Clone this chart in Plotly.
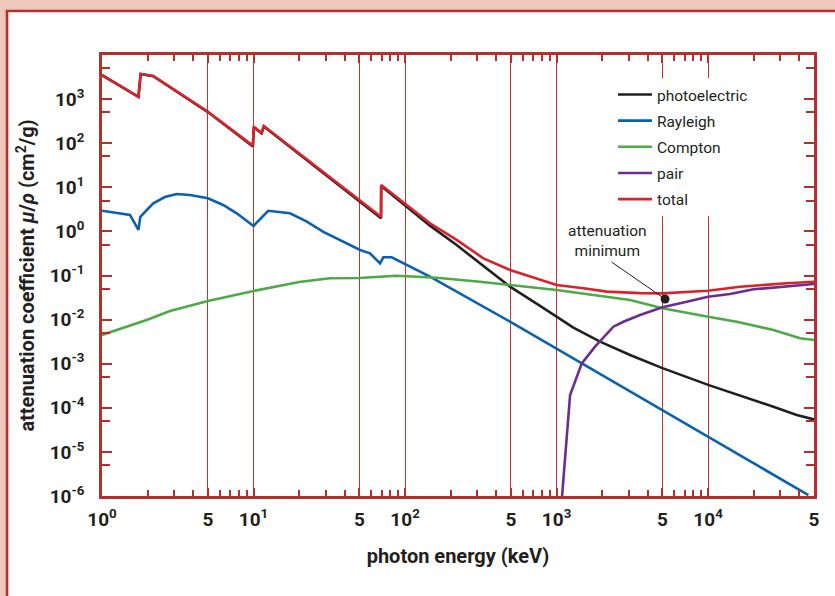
import math
import plotly.graph_objects as go

# ---------------- data ----------------
pe_E = [1.0, 1.74, 1.80, 2.18, 5.0, 9.9, 10.05, 11.3, 11.7, 30.0, 69.4, 69.6, 102.6, 146, 219,
        329, 493, 778, 1000, 1291, 1937, 3055, 5000, 10000, 26980, 38460, 50000]
pe_mu = [3500, 1120, 3690, 3310, 508, 84, 231, 167, 239, 18.6, 1.98, 10.7, 3.63, 1.35, 0.49,
         0.166, 0.0557, 0.0204, 0.0116, 0.0066, 0.00316, 0.00158, 0.000794, 0.000331,
         0.000106, 0.0000687, 0.0000545]

ray_E = [1.0, 1.53, 1.74, 1.79, 2.18, 2.6, 3.11, 3.81, 5.0, 6.3, 7.75, 10.0, 12.5, 17.4, 22.5,
         28.9, 50.5, 58.7, 68.4, 71.9, 81.6, 146, 493, 1228, 5000, 10000, 45900]
ray_mu = [2.94, 2.36, 1.08, 2.15, 4.33, 6.0, 7.05, 6.68, 5.63, 3.97, 2.57, 1.33, 2.94, 2.57, 1.66,
          0.98, 0.379, 0.318, 0.189, 0.259, 0.259, 0.094, 0.00896, 0.00144, 8.6e-5, 2.2e-5, 1.05e-6]

com_E = [1.0, 1.97, 2.81, 4.43, 5.0, 10.0, 20.0, 32, 50, 88, 162, 312, 493, 1000, 3055, 5000,
         10000, 15460, 26980, 40460, 50000]
com_mu = [0.00448, 0.0098, 0.0157, 0.0234, 0.0264, 0.0447, 0.0713, 0.0865, 0.0877, 0.0989,
          0.0891, 0.0724, 0.0610, 0.0469, 0.0278, 0.0180, 0.0116, 0.00895, 0.00581, 0.00377, 0.00344]

pair_E = [1070, 1228, 1467, 1795, 2371, 2761, 3556, 5000, 7230, 10000, 13970, 19950, 50000]
pair_mu = [5e-7, 1.95e-4, 1.02e-3, 2.43e-3, 6.9e-3, 8.95e-3, 0.0127, 0.0190, 0.0255, 0.0331,
           0.0380, 0.0486, 0.0641]

tot_E = [1.0, 1.74, 1.80, 2.18, 5.0, 9.9, 10.05, 11.3, 11.7, 30.0, 69.4, 69.6, 102.6, 146, 219,
         329, 493, 740, 1000, 1503, 2144, 3556, 5000, 10000, 16260, 33040, 50000]
tot_mu = [3520, 1130, 3710, 3340, 518, 88, 237, 173, 245, 20.0, 2.15, 11.3, 3.97, 1.53, 0.64,
          0.245, 0.133, 0.0865, 0.061, 0.0513, 0.0430, 0.0398, 0.0394, 0.0452, 0.0557, 0.0665, 0.0723]

min_E = [5200]
min_mu = [0.0293]

series_names = ["photoelectric", "Rayleigh", "Compton", "pair", "total"]
series_colors = ["#231F20", "#0A62AE", "#4DAA47", "#6B2D8F", "#D8232A"]

x_tickvals = [1, 5, 10, 50, 100, 500, 1000, 5000, 10000, 50000]
x_ticktext = ["10<sup>0</sup>", "5", "10<sup>1</sup>", "5", "10<sup>2</sup>", "5",
              "10<sup>3</sup>", "5", "10<sup>4</sup>", "5"]
x_minor = [m * 10 ** d for d in range(0, 5) for m in (2, 3, 4, 6, 7, 8, 9) if m * 10 ** d < 50000]

y_exps = list(range(-6, 4))
y_tickvals = [10.0 ** e for e in y_exps]
y_ticktext = ["10<sup>%d</sup>" % e for e in y_exps]
y_minor = [5 * 10.0 ** e for e in range(-6, 4)]

# ---------------- figure ----------------
RED = "#B3302C"
GRID = "#BE3530"
INK = "#231F20"
FONT = "Roboto"

fig = go.Figure()
data = [(pe_E, pe_mu), (ray_E, ray_mu), (com_E, com_mu), (pair_E, pair_mu), (tot_E, tot_mu)]
for (xe, ym), name, col in zip(data, series_names, series_colors):
    fig.add_trace(go.Scatter(x=xe, y=ym, mode="lines", name=name, legendgroup=name,
                             line=dict(color=col, width=2.6)))

fig.add_trace(go.Scatter(x=min_E, y=min_mu, mode="markers", showlegend=False,
                         marker=dict(color=INK, size=9)))

fig.add_annotation(x=math.log10(min_E[0]), y=math.log10(min_mu[0]), xref="x", yref="y",
                   text="", showarrow=True, arrowhead=0, arrowwidth=1, arrowcolor=INK,
                   ax=-55, ay=-38)
fig.add_annotation(x=math.log10(min_E[0]), y=math.log10(min_mu[0]), xref="x", yref="y",
                   text="attenuation<br>minimum", showarrow=False, xshift=-58, yshift=58,
                   font=dict(family=FONT, size=15.5, color=INK))

# white inner panel with red border on pink page
fig.add_shape(type="rect", xref="paper", yref="paper", x0=-0.1334, x1=1.3, y0=-0.6, y1=1.0998,
              fillcolor="white", line=dict(color=RED, width=2.6), layer="below")

fig.update_xaxes(type="log", range=[0, math.log10(50000)],
                 tickvals=x_tickvals, ticktext=x_ticktext, ticks="inside", ticklen=8,
                 tickwidth=2, tickcolor=RED, showline=True, linecolor=RED, linewidth=2.6,
                 mirror="ticks", showgrid=True, gridcolor=GRID, gridwidth=1.3, zeroline=False,
                 tickfont=dict(family=FONT, size=19, color=INK, weight="bold"),
                 ticklabelstandoff=4,
                 minor=dict(tickvals=x_minor, ticks="inside", ticklen=6, tickwidth=2,
                            tickcolor=RED, showgrid=False),
                 title=dict(text="photon energy (keV)", standoff=20,
                            font=dict(family=FONT, size=20, color=INK, weight="bold")))
fig.update_yaxes(type="log", range=[-6, 4],
                 tickvals=y_tickvals, ticktext=y_ticktext, ticks="inside", ticklen=10,
                 tickwidth=2, tickcolor=RED, showline=True, linecolor=RED, linewidth=2.6,
                 mirror="ticks", showgrid=False, zeroline=False,
                 tickfont=dict(family=FONT, size=19, color=INK, weight="bold"),
                 ticklabelstandoff=11,
                 minor=dict(tickvals=y_minor, ticks="inside", ticklen=8, tickwidth=2,
                            tickcolor=RED, showgrid=False),
                 title=dict(text="attenuation coefficient <i>μ</i>/<i>ρ</i> (cm<sup>2</sup>/g)",
                            standoff=10,
                            font=dict(family=FONT, size=20, color=INK, weight="bold")))

fig.update_layout(width=835, height=596, margin=dict(l=102, r=21, t=55, b=100),
                  paper_bgcolor="#EDC8BB", plot_bgcolor="white",
                  showlegend=True,
                  legend=dict(x=0.7177, y=0.948, xanchor="left", yanchor="top",
                              bgcolor="white", borderwidth=0, tracegroupgap=3, itemwidth=34,
                              font=dict(family=FONT, size=15.5, color=INK)))

fig.write_html("out.html", config={"displayModeBar": False},
               post_script="document.body.style.margin='0';")
